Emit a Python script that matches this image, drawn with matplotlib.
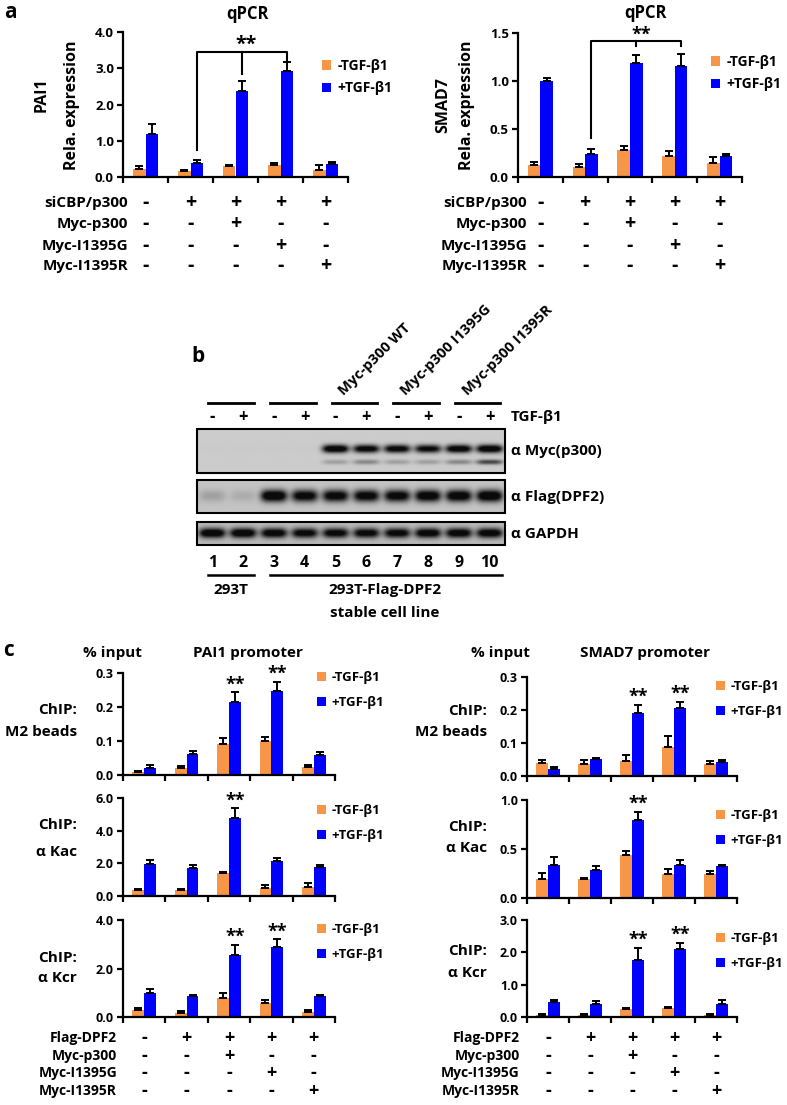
import numpy as np
import matplotlib
matplotlib.use("Agg")
import matplotlib.pyplot as plt
from matplotlib import font_manager
from matplotlib.patches import Rectangle
from matplotlib.transforms import blended_transform_factory

# pick a family that really has a bold face
_family = 'DejaVu Sans'
for cand in ['Open Sans', 'Lato', 'Noto Sans', 'Roboto', 'Liberation Sans']:
    try:
        fpath = font_manager.findfont(font_manager.FontProperties(family=cand, weight='bold'),
                                      fallback_to_default=False)
        if 'bold' in fpath.lower() or 'variable' in fpath.lower() or 'wght' in fpath.lower():
            _family = cand
            break
    except Exception:
        pass
plt.rcParams['font.family'] = [_family, 'DejaVu Sans']
plt.rcParams['font.weight'] = 'bold'

# ---------------- data ----------------
groups = [0, 1, 2, 3, 4]
legend_labels = ['-TGF-β1', '+TGF-β1']

a_row_labels = ['siCBP/p300', 'Myc-p300', 'Myc-I1395G', 'Myc-I1395R']
c_row_labels = ['Flag-DPF2', 'Myc-p300', 'Myc-I1395G', 'Myc-I1395R']
row_signs = [['-', '+', '+', '+', '+'],
             ['-', '-', '+', '-', '-'],
             ['-', '-', '-', '+', '-'],
             ['-', '-', '-', '-', '+']]

# panel a : qPCR
pai1_minus = [0.21, 0.16, 0.30, 0.32, 0.19]
pai1_minus_err = [0.10, 0.02, 0.04, 0.06, 0.14]
pai1_plus = [1.20, 0.39, 2.37, 2.92, 0.35]
pai1_plus_err = [0.25, 0.09, 0.28, 0.24, 0.07]

smad7_minus = [0.13, 0.10, 0.28, 0.22, 0.15]
smad7_minus_err = [0.03, 0.04, 0.04, 0.05, 0.06]
smad7_plus = [1.00, 0.24, 1.19, 1.16, 0.22]
smad7_plus_err = [0.03, 0.05, 0.08, 0.12, 0.02]

# panel c : ChIP
pai1_m2_minus = [0.010, 0.022, 0.090, 0.100, 0.025]
pai1_m2_minus_err = [0.003, 0.005, 0.020, 0.013, 0.003]
pai1_m2_plus = [0.020, 0.062, 0.214, 0.248, 0.058]
pai1_m2_plus_err = [0.010, 0.008, 0.029, 0.026, 0.009]

pai1_kac_minus = [0.39, 0.39, 1.40, 0.49, 0.55]
pai1_kac_minus_err = [0.06, 0.06, 0.10, 0.21, 0.25]
pai1_kac_plus = [1.94, 1.72, 4.76, 2.13, 1.78]
pai1_kac_plus_err = [0.26, 0.18, 0.64, 0.20, 0.12]

pai1_kcr_minus = [0.30, 0.17, 0.79, 0.58, 0.20]
pai1_kcr_minus_err = [0.07, 0.06, 0.18, 0.14, 0.08]
pai1_kcr_plus = [1.00, 0.87, 2.55, 2.90, 0.87]
pai1_kcr_plus_err = [0.14, 0.05, 0.42, 0.31, 0.04]

smad7_m2_minus = [0.040, 0.036, 0.046, 0.087, 0.036]
smad7_m2_minus_err = [0.007, 0.012, 0.018, 0.033, 0.008]
smad7_m2_plus = [0.020, 0.053, 0.192, 0.207, 0.043]
smad7_m2_plus_err = [0.007, 0.003, 0.023, 0.016, 0.005]

smad7_kac_minus = [0.19, 0.19, 0.44, 0.24, 0.24]
smad7_kac_minus_err = [0.07, 0.01, 0.04, 0.06, 0.04]
smad7_kac_plus = [0.34, 0.29, 0.80, 0.34, 0.33]
smad7_kac_plus_err = [0.08, 0.04, 0.08, 0.05, 0.01]

smad7_kcr_minus = [0.07, 0.07, 0.24, 0.28, 0.07]
smad7_kcr_minus_err = [0.03, 0.03, 0.04, 0.03, 0.03]
smad7_kcr_plus = [0.46, 0.39, 1.77, 2.09, 0.39]
smad7_kcr_plus_err = [0.06, 0.10, 0.36, 0.21, 0.15]

# panel b : western blot band intensities (lanes 1-10)
lane_numbers = ['1', '2', '3', '4', '5', '6', '7', '8', '9', '10']
lane_tgf = ['-', '+', '-', '+', '-', '+', '-', '+', '-', '+']
blot_constructs = ['Myc-p300 WT', 'Myc-p300 I1395G', 'Myc-p300 I1395R']
myc_main = [0.01, 0.01, 0.01, 0.01, 1.00, 0.90, 0.90, 0.85, 0.95, 1.00]
myc_lower = [0.00, 0.00, 0.00, 0.00, 0.18, 0.28, 0.18, 0.18, 0.28, 0.55]
flag_band = [0.15, 0.10, 1.00, 0.90, 0.90, 0.90, 0.90, 0.95, 0.95, 1.00]
gapdh_band = [1.00, 1.00, 0.95, 0.90, 0.90, 0.90, 0.90, 0.95, 0.95, 0.95]

# ---------------- figure ----------------
W, H = 787, 1105
ORANGE = '#F79646'
BLUE = '#0000FF'
fig = plt.figure(figsize=(W / 100, H / 100), dpi=100)


def ax_px(l, t, r, b):
    return fig.add_axes([l / W, 1 - b / H, (r - l) / W, (b - t) / H])


def ftxt(x, y, s, **kw):
    kw.setdefault('ha', 'center')
    kw.setdefault('va', 'center')
    kw.setdefault('fontweight', 'bold')
    return fig.text(x / W, 1 - y / H, s, **kw)


BW = 0.28


def bar_panel(ax, minus, minus_err, plus, plus_err, ymax, yticks, tick_fs=8):
    x = np.array(groups, dtype=float)
    bm = ax.bar(x - BW / 2, minus, BW, color=ORANGE, label=legend_labels[0], zorder=2)
    bp = ax.bar(x + BW / 2, plus, BW, color=BLUE, label=legend_labels[1], zorder=2)
    z = np.zeros(len(x))
    ax.errorbar(x - BW / 2, minus, yerr=[z, minus_err], fmt='none', ecolor='black',
                elinewidth=1.4, capsize=3.2, capthick=1.4, zorder=3)
    ax.errorbar(x + BW / 2, plus, yerr=[z, plus_err], fmt='none', ecolor='black',
                elinewidth=1.4, capsize=3.2, capthick=1.4, zorder=3)
    ax.set_xlim(-0.5, len(x) - 0.5)
    ax.set_ylim(0, ymax)
    ax.set_xticks(np.arange(-0.5, len(x), 1.0))
    ax.set_xticklabels([])
    ax.set_yticks(yticks)
    ax.set_yticklabels(['%.1f' % t for t in yticks], fontsize=tick_fs, fontweight='bold')
    for s in ['top', 'right']:
        ax.spines[s].set_visible(False)
    for s in ['left', 'bottom']:
        ax.spines[s].set_linewidth(1.6)
    ax.tick_params(axis='both', direction='out', length=4.5, width=1.6, pad=2)
    ax.patch.set_alpha(0)
    return bm, bp


def legend_at(ax, handles, x, y, fs=10, spacing=0.6):
    ax.legend(handles=handles, loc='upper left', bbox_to_anchor=(x / W, 1 - y / H),
              bbox_transform=fig.transFigure, frameon=False,
              handlelength=0.65, handleheight=0.65, handletextpad=0.45,
              labelspacing=spacing, borderpad=0, borderaxespad=0,
              prop={'weight': 'bold', 'size': fs})


def sign_rows(ax, labels, ys, label_x, fs_label, fs_sign):
    tr = blended_transform_factory(ax.transData, fig.transFigure)
    for lab, y, signs in zip(labels, ys, row_signs):
        ftxt(label_x, y, lab, ha='right', fontsize=fs_label)
        for g, s in zip(groups, signs):
            ax.text(g, 1 - y / H, s, transform=tr, ha='center', va='center',
                    fontsize=fs_sign, fontweight='bold')


def stars(ax, idx, plus, plus_err, offset, fs=13):
    for i in idx:
        ax.text(groups[i] + BW / 2, plus[i] + plus_err[i] + offset, '**', ha='center',
                va='baseline', fontsize=fs, fontweight='bold', clip_on=False)


# ---------------- panel a ----------------
ftxt(10, 12, 'a', fontsize=15)

axA1 = ax_px(123, 32, 348, 177)
h = bar_panel(axA1, pai1_minus, pai1_minus_err, pai1_plus, pai1_plus_err, 4.0,
              [0, 1, 2, 3, 4], tick_fs=9.5)
legend_at(axA1, list(h), 322, 59)
ftxt(247, 14, 'qPCR', fontsize=12)
ftxt(42, 95, 'PAI1', rotation=90, fontsize=11.5)
ftxt(72, 105, 'Rela. expression', rotation=90, fontsize=11.5)
sign_rows(axA1, a_row_labels, [203, 224, 246, 266], 128, 11, 14)
# significance bracket
bx = [groups[1] + BW / 2, groups[2] + BW / 2, groups[3] + BW / 2]
axA1.plot([bx[0], bx[0], bx[2], bx[2]], [0.74, 3.45, 3.45, 3.12], color='black', lw=1.5, clip_on=False)
axA1.plot([bx[1], bx[1]], [3.45, 2.85], color='black', lw=1.5, clip_on=False)
axA1.text(bx[1] + 0.1, 3.52, '**', ha='center', va='baseline', fontsize=14, fontweight='bold')

axA2 = ax_px(518, 33, 742, 177)
h = bar_panel(axA2, smad7_minus, smad7_minus_err, smad7_plus, smad7_plus_err, 1.5,
              [0, 0.5, 1.0, 1.5], tick_fs=9.5)
legend_at(axA2, list(h), 711, 55)
ftxt(645, 13, 'qPCR', fontsize=12)
ftxt(443, 105, 'SMAD7', rotation=90, fontsize=11.5)
ftxt(467, 105, 'Rela. expression', rotation=90, fontsize=11.5)
sign_rows(axA2, a_row_labels, [203, 224, 246, 266], 527, 11, 14)
bx = [groups[1] + BW / 2, groups[2] + BW / 2, groups[3] + BW / 2]
axA2.plot([bx[0], bx[0], bx[2], bx[2]], [0.41, 1.42, 1.42, 1.36], color='black', lw=1.5, clip_on=False)
axA2.plot([bx[1], bx[1]], [1.42, 1.36], color='black', lw=1.5, clip_on=False)
axA2.text(bx[1] + 0.1, 1.43, '**', ha='center', va='baseline', fontsize=13, fontweight='bold',
          clip_on=False)

# ---------------- panel b ----------------
ftxt(198, 357, 'b', fontsize=15)
axB = ax_px(197, 290, 505, 620)
axB.set_xlim(0, 10)
axB.set_ylim(620, 290)
axB.axis('off')


def blot_image(bands, bg, nx=400, ny=80):
    xs = (np.arange(nx) + 0.5) / nx * 10
    ys = (np.arange(ny) + 0.5) / ny
    dens = np.zeros((ny, nx))
    for inten, c, s in bands:
        for i, v in enumerate(inten):
            hx = np.exp(-((xs - (i + 0.5)) / 0.43) ** 4)
            dens += v * np.outer(np.exp(-0.5 * ((ys - c) / s) ** 2), hx)
    dens = np.clip(dens * 1.3, 0, 1)
    return bg * (1 - dens) + 0.04 * dens


blots = [
    ([(myc_main, 0.45, 0.065), (myc_lower, 0.75, 0.04)], 0.80, 429, 473, 'α Myc(p300)'),
    ([(flag_band, 0.48, 0.13)], 0.77, 480, 513, 'α Flag(DPF2)'),
    ([(gapdh_band, 0.48, 0.15)], 0.73, 522, 545, 'α GAPDH'),
]
for bands, bg, top, bot, lab in blots:
    img = blot_image(bands, bg)
    axB.imshow(img, extent=(0, 10, bot, top), aspect='auto', cmap='gray', vmin=0, vmax=1,
               interpolation='bilinear', zorder=1)
    axB.add_patch(Rectangle((0, top), 10, bot - top, fill=False, lw=1.5, ec='black', zorder=2,
                            clip_on=False))
    axB.text(10.2, (top + bot) / 2, lab, ha='left', va='center', fontsize=11, fontweight='bold')

for i, (s, n) in enumerate(zip(lane_tgf, lane_numbers)):
    axB.text(i + 0.5, 417, s, ha='center', va='center', fontsize=12, fontweight='bold')
    axB.text(i + 0.5, 563, n, ha='center', va='center', fontsize=11.5, fontweight='bold')
axB.text(10.2, 417, 'TGF-β1', ha='left', va='center', fontsize=11, fontweight='bold')
for k in range(5):
    axB.plot([2 * k + 0.37, 2 * k + 1.85], [403, 403], color='black', lw=2, clip_on=False)
for k, lab in enumerate(blot_constructs):
    axB.text(2 * (k + 2) + 0.85, 398, lab, rotation=45, rotation_mode='anchor', ha='left',
             va='bottom', fontsize=10.5, fontweight='bold')
axB.plot([0.37, 1.85], [575, 575], color='black', lw=1.8, clip_on=False)
axB.plot([2.37, 9.9], [575, 575], color='black', lw=1.8, clip_on=False)
axB.text(1.1, 590, '293T', ha='center', va='center', fontsize=11, fontweight='bold')
axB.text(6.1, 590, '293T-Flag-DPF2', ha='center', va='center', fontsize=11, fontweight='bold')
axB.text(6.1, 613, 'stable cell line', ha='center', va='center', fontsize=11, fontweight='bold')

# ---------------- panel c ----------------
ftxt(8, 650, 'c', fontsize=15)
ftxt(112, 653, '% input', fontsize=11)
ftxt(248, 653, 'PAI1 promoter', fontsize=11)
ftxt(500, 653, '% input', fontsize=11)
ftxt(645, 653, 'SMAD7 promoter', fontsize=11)

c_specs = [
    ((123, 673, 335, 775), (pai1_m2_minus, pai1_m2_minus_err, pai1_m2_plus, pai1_m2_plus_err),
     0.3, [0, 0.1, 0.2, 0.3], (317, 671), [2, 3], 0.008, (77, 710, 732, 'M2 beads')),
    ((123, 798, 335, 896), (pai1_kac_minus, pai1_kac_minus_err, pai1_kac_plus, pai1_kac_plus_err),
     6.0, [0, 2, 4, 6], (317, 804), [2], 0.15, (77, 825, 852, 'α Kac')),
    ((123, 920, 335, 1017), (pai1_kcr_minus, pai1_kcr_minus_err, pai1_kcr_plus, pai1_kcr_plus_err),
     4.0, [0, 2, 4], (317, 923), [2, 3], 0.12, (77, 958, 978, 'α Kcr')),
    ((527, 677, 737, 776), (smad7_m2_minus, smad7_m2_minus_err, smad7_m2_plus, smad7_m2_plus_err),
     0.3, [0, 0.1, 0.2, 0.3], (716, 680), [2, 3], 0.010, (487, 711, 732, 'M2 beads')),
    ((527, 800, 737, 898), (smad7_kac_minus, smad7_kac_minus_err, smad7_kac_plus, smad7_kac_plus_err),
     1.0, [0, 0.5, 1.0], (716, 809), [2], 0.03, (487, 827, 848, 'α Kac')),
    ((527, 920, 737, 1017), (smad7_kcr_minus, smad7_kcr_minus_err, smad7_kcr_plus, smad7_kcr_plus_err),
     3.0, [0, 1, 2, 3], (716, 932), [2, 3], 0.10, (487, 951, 973, 'α Kcr')),
]
c_axes = []
for rect, d, ymax, ticks, (lx, ly), sidx, soff, (rx, ry1, ry2, rlab) in c_specs:
    ax = ax_px(*rect)
    h = bar_panel(ax, *d, ymax, ticks, tick_fs=9)
    legend_at(ax, list(h), lx, ly, fs=9.5, spacing=0.9)
    stars(ax, sidx, d[2], d[3], soff, fs=13)
    ftxt(rx, ry1, 'ChIP:', ha='right', fontsize=11)
    ftxt(rx, ry2, rlab, ha='right', fontsize=11)
    c_axes.append(ax)

sign_rows(c_axes[2], c_row_labels, [1038, 1056, 1073, 1091], 117, 10, 13)
sign_rows(c_axes[5], c_row_labels, [1038, 1056, 1073, 1091], 520, 10, 13)

fig.savefig('out.png', dpi=100)
